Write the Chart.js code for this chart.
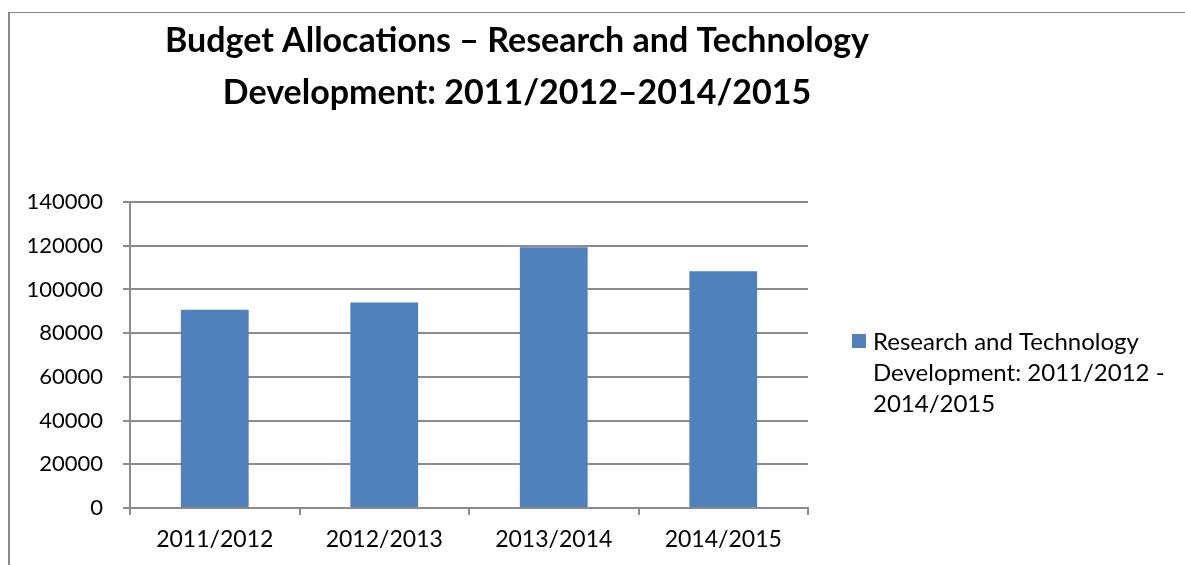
<!DOCTYPE html>
<html>
<head>
<meta charset="utf-8">
<script src="https://cdn.jsdelivr.net/npm/chart.js@4.4.1/dist/chart.umd.min.js"></script>
<style>
  html, body { margin: 0; padding: 0; background: #fff; overflow: hidden; }
  #wrap { position: relative; width: 1185px; height: 565px; }
  #frame { position: absolute; left: 8px; top: 12px; width: 1200px; height: 600px;
           border-left: 2px solid #8a8a8a; border-top: 1px solid #8a8a8a; }
  canvas { position: absolute; left: 0; top: 0; }
</style>
</head>
<body>
<div id="wrap">
  <div id="frame"></div>
  <canvas id="budgetChart" width="1185" height="565"></canvas>
</div>
<script>
// chart data
const categories = ['2011/2012', '2012/2013', '2013/2014', '2014/2015'];
const allocations = [90700, 94000, 119300, 108300];
const yMin = 0, yMax = 140000, yStep = 20000;

const titleLines = ['Budget Allocations \u2013 Research and Technology', 'Development: 2011/2012\u20132014/2015'];
const seriesLabel = 'Research and Technology Development: 2011/2012 - 2014/2015';
const legendLines = ['Research and Technology', 'Development: 2011/2012 -', '2014/2015'];

const barColor = '#4f81bd';
const gridColor = '#8c8c8c';
const fontFamily = 'Lato, "Open Sans", sans-serif';

// title + legend drawn on the canvas (Excel-style placement)
const titleLegendPlugin = {
    id: 'titleLegend',
    afterDraw(chart) {
        const ctx = chart.ctx;
        ctx.save();
        ctx.fillStyle = '#000';
        ctx.textBaseline = 'alphabetic';

        ctx.font = 'bold 34px ' + fontFamily;
        ctx.textAlign = 'center';
        ctx.fillText(titleLines[0], 517, 52);
        ctx.fillText(titleLines[1], 517, 104);

        ctx.fillStyle = barColor;
        ctx.fillRect(852, 334, 14, 14);
        ctx.fillStyle = '#000';
        ctx.font = '24px ' + fontFamily;
        ctx.textAlign = 'left';
        legendLines.forEach((line, i) => ctx.fillText(line, 873, 350 + i * 31));
        ctx.restore();
    }
};

const ctx = document.getElementById('budgetChart').getContext('2d');
const chart = new Chart(ctx, {
    type: 'bar',
    data: {
        labels: categories,
        datasets: [{
            label: seriesLabel,
            data: allocations,
            backgroundColor: barColor,
            borderWidth: 0,
            barPercentage: 0.4,
            categoryPercentage: 1.0
        }]
    },
    options: {
        responsive: false,
        animation: false,
        layout: { padding: { left: 0, top: 202, right: 377, bottom: 0 } },
        plugins: {
            legend: { display: false },
            title: { display: false },
            tooltip: { enabled: false }
        },
        scales: {
            x: {
                offset: true,
                grid: { display: true, drawOnChartArea: false, drawTicks: true, tickLength: 7, color: gridColor, lineWidth: 2, offset: true },
                border: { display: true, color: gridColor, width: 2 },
                ticks: { color: '#000', font: { family: fontFamily, size: 23 }, padding: 11, maxRotation: 0 },
                afterFit: (s) => { s.height = 57; }
            },
            y: {
                min: yMin,
                max: yMax,
                grid: { color: gridColor, lineWidth: 2, drawTicks: true, tickLength: 7 },
                border: { display: true, color: gridColor, width: 2 },
                ticks: {
                    stepSize: yStep,
                    color: '#000',
                    font: { family: fontFamily, size: 22 },
                    padding: 20,
                    callback: (v) => String(v)
                },
                afterFit: (s) => { s.width = 130; }
            }
        }
    },
    plugins: [titleLegendPlugin]
});
</script>
</body>
</html>
